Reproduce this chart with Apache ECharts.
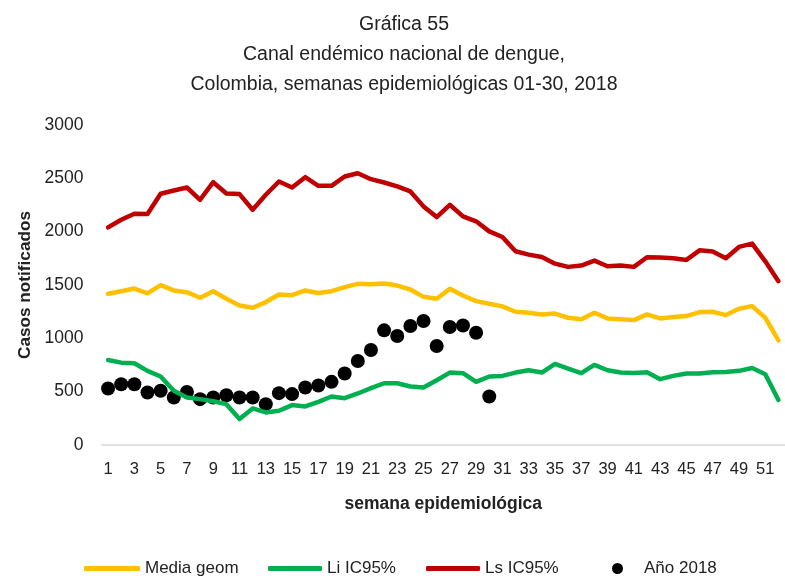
<!DOCTYPE html>
<html>
<head>
<meta charset="utf-8">
<script src="https://cdn.jsdelivr.net/npm/echarts@6/dist/echarts.min.js"></script>
<style>
  html, body { margin: 0; padding: 0; background: #fff; }
  #chart { width: 785px; height: 578px; }
</style>
</head>
<body>
<div id="chart"></div>
<script>
// semanas epidemiológicas
const semanas = Array.from({ length: 52 }, (_, i) => String(i + 1));

// Media geométrica
const mediaGeom = [1418, 1442, 1467, 1421, 1498, 1449, 1433, 1380, 1442, 1371,
    1308, 1287, 1340, 1411, 1405, 1449, 1425, 1442, 1480, 1511,
    1508, 1514, 1495, 1458, 1389, 1371, 1464, 1402, 1349, 1325,
    1300, 1249, 1240, 1224, 1232, 1193, 1178, 1240, 1187, 1178,
    1171, 1224, 1187, 1199, 1209, 1246, 1249, 1218, 1277, 1302,
    1193, 981];

// Límite inferior IC95%
const liIC95 = [797, 772, 766, 695, 642, 508, 446, 430, 410, 383,
    243, 343, 305, 321, 374, 361, 405, 455, 439, 483,
    533, 579, 579, 548, 539, 607, 679, 673, 592, 642,
    648, 679, 701, 679, 760, 717, 673, 751, 701, 679,
    676, 682, 617, 648, 670, 670, 682, 685, 695, 722,
    664, 421];

// Límite superior IC95%
const lsIC95 = [2040, 2112, 2168, 2165, 2355, 2386, 2414, 2299, 2464, 2358,
    2352, 2206, 2346, 2470, 2414, 2511, 2430, 2430, 2517, 2548,
    2492, 2461, 2424, 2377, 2237, 2137, 2252, 2143, 2097, 2003,
    1950, 1816, 1785, 1763, 1700, 1670, 1682, 1729, 1676, 1682,
    1670, 1760, 1757, 1751, 1735, 1825, 1813, 1751, 1857, 1888,
    1722, 1536];

// Casos 2018, semanas 1-30
const anio2018 = [530, 570, 570, 492, 508, 446, 498, 430, 446, 467,
    446, 446, 383, 486, 477, 539, 558, 592, 670, 788,
    891, 1075, 1022, 1115, 1162, 928, 1106, 1121, 1053, 455];

const fuente = "'Liberation Sans', Arial, sans-serif";

function leyenda(nombre, left, icon, w, h) {
    return {
        data: [{ name: nombre, icon: icon }],
        left: left,
        top: 560,
        padding: 0,
        itemWidth: w,
        itemHeight: h,
        itemGap: 0,
        selectedMode: false,
        textStyle: { fontFamily: fuente, fontSize: 17, color: '#222', padding: nombre === 'Año 2018' ? [0, 0, 0, 16] : 0 }
    };
}

const chart = echarts.init(document.getElementById('chart'));
chart.setOption({
    animation: false,
    title: {
        text: 'Gráfica 55\nCanal endémico nacional de dengue,\nColombia, semanas epidemiológicas 01-30, 2018',
        left: 399,
        textAlign: 'center',
        top: 5,
        textStyle: { fontFamily: fuente, fontSize: 19.5, fontWeight: 'normal', color: '#222', lineHeight: 30 }
    },
    legend: [
        leyenda('Media geom', 84, 'roundRect', 56, 5),
        leyenda('Li IC95%', 268, 'roundRect', 54, 5),
        leyenda('Ls IC95%', 426, 'roundRect', 54, 5),
        leyenda('Año 2018', 612, 'circle', 11, 11)
    ],
    grid: { left: 101.5, top: 125, width: 687, height: 320 },
    xAxis: {
        type: 'category',
        data: semanas,
        name: 'semana epidemiológica',
        nameLocation: 'middle',
        nameGap: 50,
        nameTextStyle: { fontFamily: fuente, fontSize: 17.5, fontWeight: 'bold', color: '#222' },
        axisLine: { lineStyle: { color: '#d9d9d9', width: 1.5 } },
        axisTick: { show: false },
        axisLabel: { interval: 1, margin: 16, fontFamily: fuente, fontSize: 16.5, color: '#222' }
    },
    yAxis: {
        type: 'value',
        min: 0,
        max: 3000,
        interval: 500,
        name: 'Casos notificados',
        nameLocation: 'middle',
        nameGap: 62,
        nameTextStyle: { fontFamily: fuente, fontSize: 17.2, fontWeight: 'bold', color: '#222' },
        axisLine: { show: false },
        axisTick: { show: false },
        splitLine: { show: false },
        axisLabel: { margin: 18, fontFamily: fuente, fontSize: 17.5, color: '#222', formatter: v => String(v) }
    },
    series: [
        {
            name: 'Media geom', type: 'line', data: mediaGeom, showSymbol: false,
            itemStyle: { color: '#FFC000' },
            lineStyle: { color: '#FFC000', width: 4.5, join: 'round', cap: 'round' }
        },
        {
            name: 'Li IC95%', type: 'line', data: liIC95, showSymbol: false,
            itemStyle: { color: '#00B050' },
            lineStyle: { color: '#00B050', width: 4.5, join: 'round', cap: 'round' }
        },
        {
            name: 'Ls IC95%', type: 'line', data: lsIC95, showSymbol: false,
            itemStyle: { color: '#C00000' },
            lineStyle: { color: '#C00000', width: 4.5, join: 'round', cap: 'round' }
        },
        {
            name: 'Año 2018', type: 'scatter', data: anio2018, symbolSize: 14,
            itemStyle: { color: '#000', opacity: 1 }
        }
    ]
});
</script>
</body>
</html>
